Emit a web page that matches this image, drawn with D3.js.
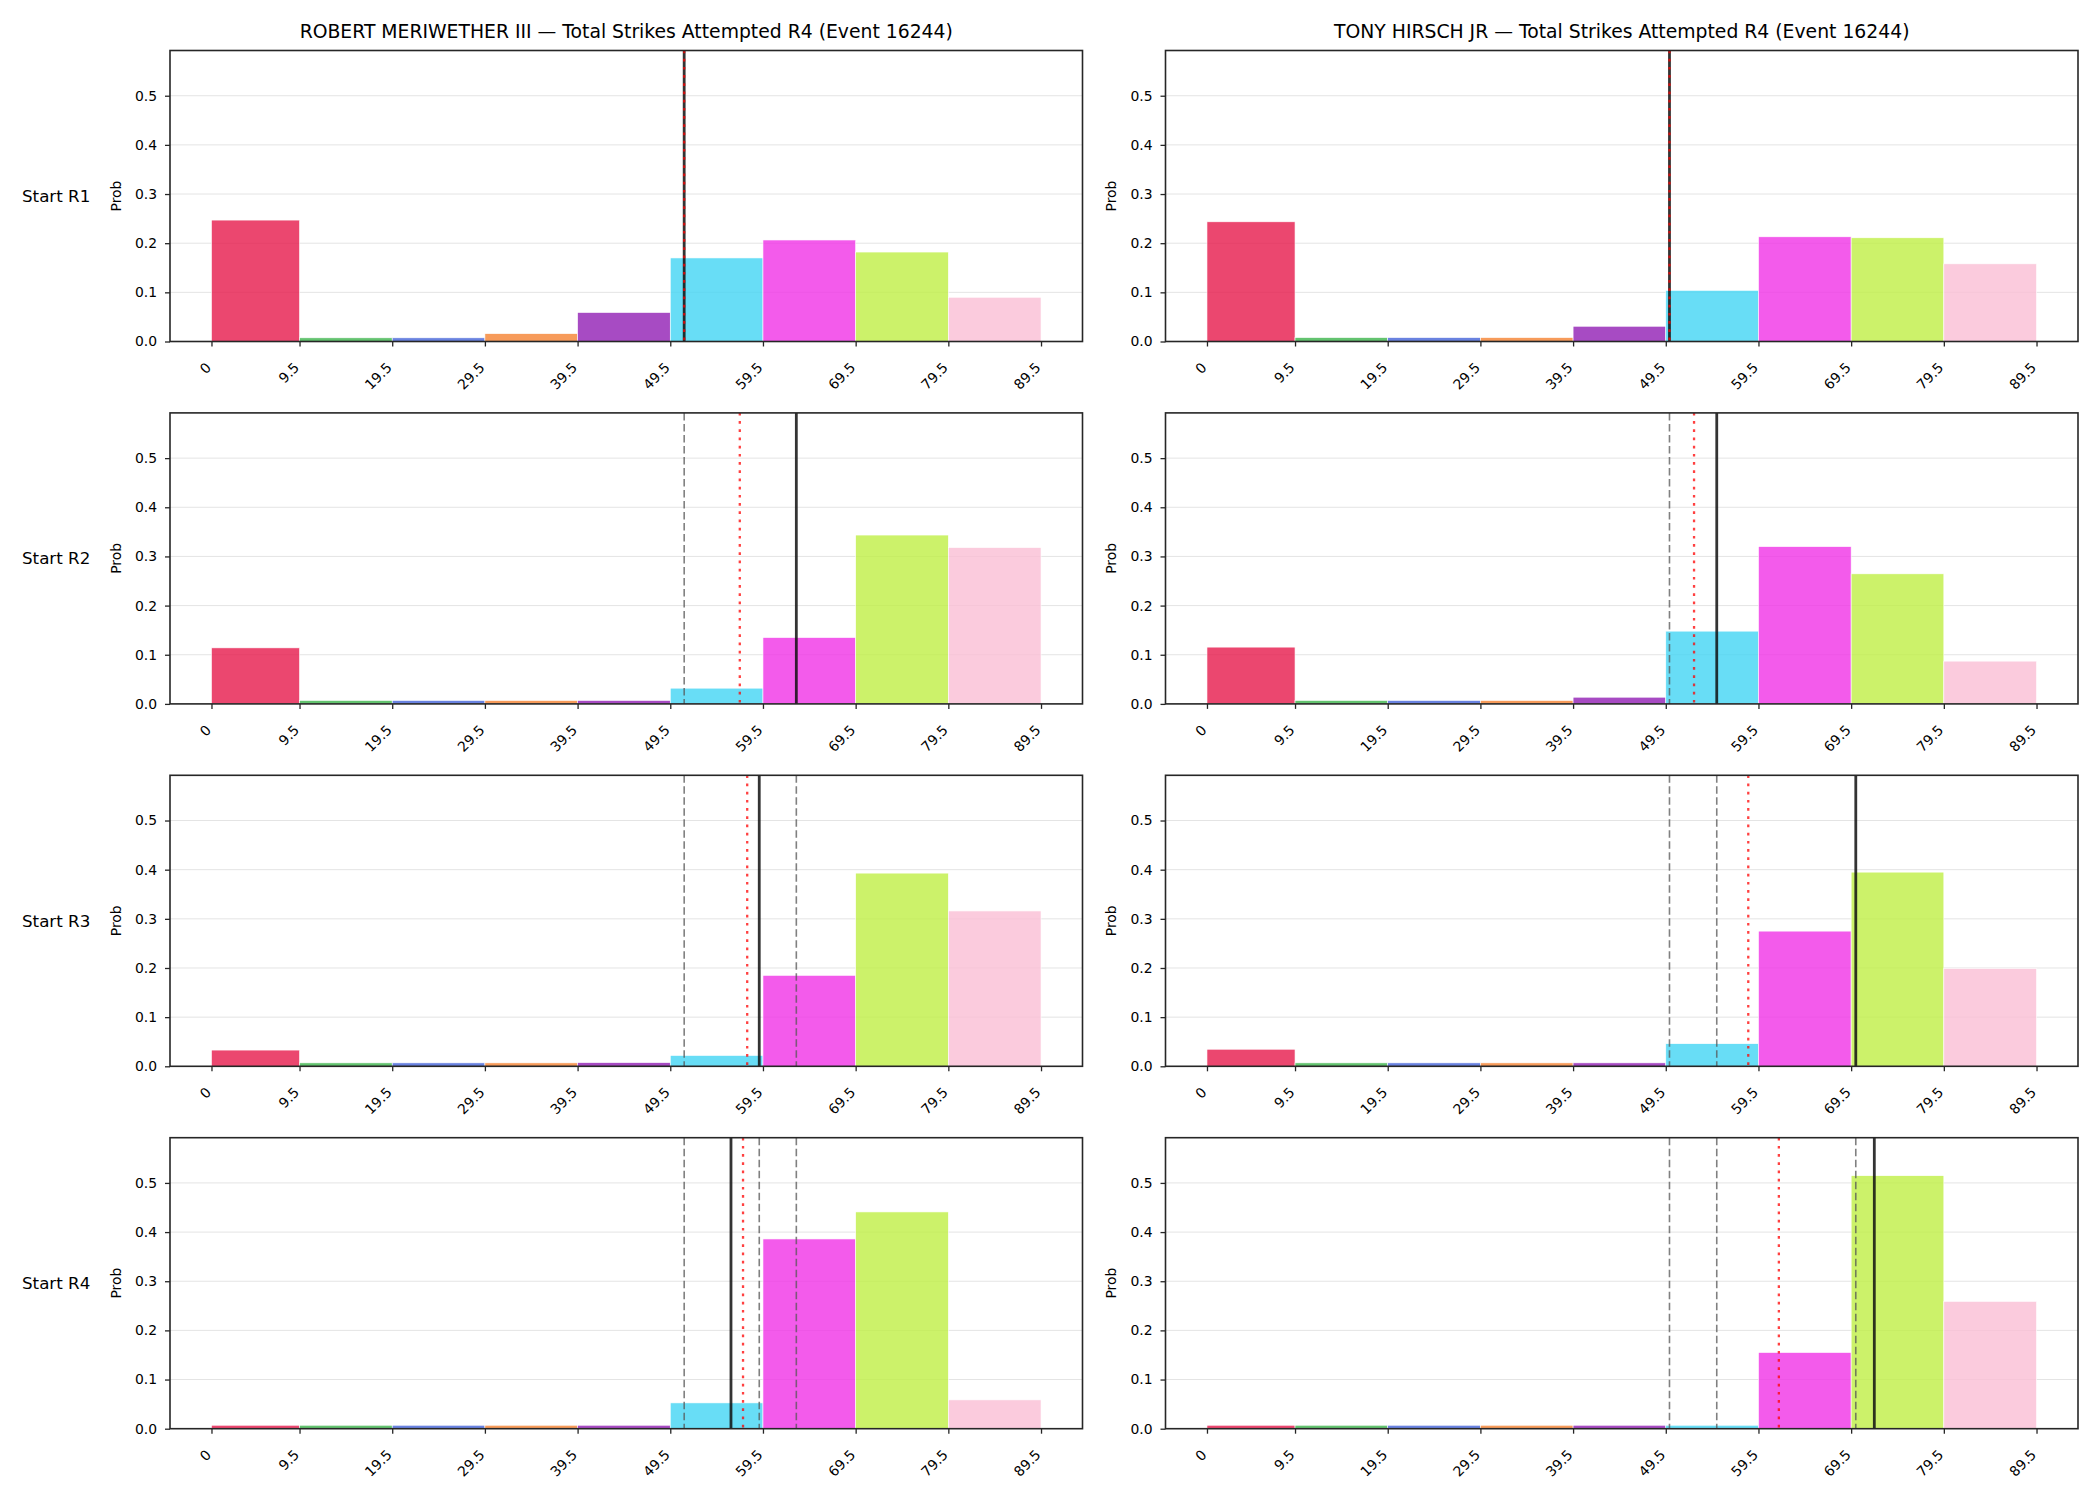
<!DOCTYPE html>
<html>
<head>
<meta charset="utf-8">
<script src="https://cdn.jsdelivr.net/npm/d3@7"></script>
<style>
  body { margin: 0; background: #fff; }
  svg { font-family: "DejaVu Sans", sans-serif; }
</style>
</head>
<body>
<div id="chart-area"></div>
<script>
//DATA-----------------------------------------------------------------------
const fighters = ["ROBERT MERIWETHER III", "TONY HIRSCH JR"]
const titleSuffix = " \u2014 Total Strikes Attempted R4 (Event 16244)"
const rowLabels = ["Start R1", "Start R2", "Start R3", "Start R4"]
const binEdges = [0, 9.5, 19.5, 29.5, 39.5, 49.5, 59.5, 69.5, 79.5, 89.5]
const binColors = ['#e6194b', '#3cb44b', '#4363d8', '#f58231', '#911eb4', '#42d4f4', '#f032e6', '#bfef45', '#fabed4']
const yTicks = [0, 0.1, 0.2, 0.3, 0.4, 0.5]

// probabilities per bin, one row per starting round
const probsLeft = [
  [0.247, 0.0075, 0.0075, 0.016, 0.059, 0.170, 0.2065, 0.182, 0.090],
  [0.114, 0.007, 0.007, 0.007, 0.007, 0.032, 0.135, 0.3435, 0.318],
  [0.033, 0.007, 0.007, 0.007, 0.0075, 0.022, 0.185, 0.393, 0.316],
  [0.007, 0.007, 0.007, 0.007, 0.007, 0.0525, 0.386, 0.441, 0.0586]
]
const probsRight = [
  [0.2435, 0.008, 0.008, 0.008, 0.031, 0.104, 0.213, 0.211, 0.158],
  [0.1155, 0.007, 0.007, 0.007, 0.0136, 0.148, 0.320, 0.2646, 0.087],
  [0.0347, 0.007, 0.007, 0.007, 0.007, 0.046, 0.275, 0.395, 0.199],
  [0.007, 0.007, 0.007, 0.007, 0.007, 0.007, 0.155, 0.5147, 0.259]
]
// solid black line (current estimate) and red dotted line per row
const blackLeft  = [51.0, 63.1, 59.1, 56.05]
const redLeft    = [51.0, 57.0, 57.8, 57.35]
const blackRight = [49.9, 55.0, 70.0, 72.0]
const redRight   = [49.9, 52.55, 58.4, 61.7]

const panels = [
  { name: fighters[0], probs: probsLeft,  black: blackLeft,  red: redLeft },
  { name: fighters[1], probs: probsRight, black: blackRight, red: redRight }
]

//LAYOUT---------------------------------------------------------------------
const W = 2100, H = 1500
const COL_X = [170, 1165.5]
const PANEL_W = 912.5
const ROW_Y0 = 50.5, ROW_STEP = 362.4
const PANEL_H = 291
const Y_MAX = 0.592

const svg = d3.select("#chart-area").append("svg")
  .attr("width", W)
  .attr("height", H)

svg.append("rect").attr("width", W).attr("height", H).attr("fill", "#fff")

const xScale = d3.scaleLinear()
  .domain([-4.475, 93.975])
  .range([0, PANEL_W])
const yScale = d3.scaleLinear()
  .domain([0, Y_MAX])
  .range([PANEL_H, 0])

//PANELS---------------------------------------------------------------------
panels.forEach((p, c) => {
  // column title
  svg.append("text")
    .attr("x", COL_X[c] + PANEL_W / 2)
    .attr("y", 37.5)
    .attr("text-anchor", "middle")
    .attr("font-size", 18.8)
    .attr("fill", "#000")
    .text(p.name + titleSuffix)

  p.probs.forEach((probs, r) => {
    const top = ROW_Y0 + r * ROW_STEP
    const g = svg.append("g").attr("transform", `translate(${COL_X[c]}, ${top})`)

    // grid
    g.selectAll(".grid").data(yTicks.slice(1)).enter().append("line")
      .attr("x1", 0).attr("x2", PANEL_W)
      .attr("y1", d => yScale(d)).attr("y2", d => yScale(d))
      .attr("stroke", "#e4e4e4").attr("stroke-width", 1)

    // bars
    g.selectAll(".bar").data(probs).enter().append("rect")
      .attr("x", (d, i) => xScale(binEdges[i]))
      .attr("width", (d, i) => xScale(binEdges[i + 1]) - xScale(binEdges[i]))
      .attr("y", d => yScale(d))
      .attr("height", d => yScale(0) - yScale(d))
      .attr("fill", (d, i) => binColors[i])
      .attr("fill-opacity", 0.8)
      .attr("stroke", "#fff")
      .attr("stroke-width", 0.6)

    // previous rounds' estimates, dashed
    const prev = p.black.slice(0, r)
    g.selectAll(".prev").data(prev).enter().append("line")
      .attr("x1", d => xScale(d)).attr("x2", d => xScale(d))
      .attr("y1", 0).attr("y2", PANEL_H)
      .attr("stroke", "#555").attr("stroke-opacity", 0.75)
      .attr("stroke-width", 1.6)
      .attr("stroke-dasharray", "7.5,3.5")

    // current estimate
    g.append("line")
      .attr("x1", xScale(p.black[r])).attr("x2", xScale(p.black[r]))
      .attr("y1", 0).attr("y2", PANEL_H)
      .attr("stroke", "#111").attr("stroke-opacity", 0.85)
      .attr("stroke-width", 2.8)

    // red dotted
    g.append("line")
      .attr("x1", xScale(p.red[r])).attr("x2", xScale(p.red[r]))
      .attr("y1", 0).attr("y2", PANEL_H)
      .attr("stroke", "#ff0000").attr("stroke-opacity", 0.75)
      .attr("stroke-width", 2.3)
      .attr("stroke-dasharray", "2.7,5.5")

    // axes
    const gx = g.append("g")
      .attr("transform", `translate(0, ${PANEL_H})`)
      .call(d3.axisBottom(xScale).tickValues(binEdges).tickFormat(d => String(d)).tickSize(5))
    gx.select(".domain").remove()
    gx.selectAll(".tick line").attr("stroke", "#262626").attr("stroke-width", 1.3)
    gx.selectAll(".tick text")
      .attr("x", 0).attr("y", 0).attr("dy", 0)
      .attr("transform", "translate(0, 27) rotate(-45)")
      .attr("text-anchor", "end")
      .attr("font-size", 13.9)
      .attr("font-family", "DejaVu Sans")
      .attr("fill", "#000")

    const gy = g.append("g")
      .call(d3.axisLeft(yScale).tickValues(yTicks).tickFormat(d3.format(".1f")).tickSize(5).tickPadding(8))
    gy.select(".domain").remove()
    gy.selectAll(".tick line").attr("stroke", "#262626").attr("stroke-width", 1.3)
    gy.selectAll(".tick text")
      .attr("font-size", 13.9)
      .attr("font-family", "DejaVu Sans")
      .attr("fill", "#000")

    // frame
    g.append("rect")
      .attr("width", PANEL_W).attr("height", PANEL_H)
      .attr("fill", "none")
      .attr("stroke", "#262626").attr("stroke-width", 1.6)

    // y label
    g.append("text")
      .attr("transform", `translate(-54, ${PANEL_H / 2}) rotate(-90)`)
      .attr("text-anchor", "middle")
      .attr("dy", "0.35em")
      .attr("font-size", 13.9)
      .text("Prob")

    // row label (left column only)
    if (c === 0) {
      svg.append("text")
        .attr("x", 22)
        .attr("y", top + PANEL_H / 2)
        .attr("dy", "0.35em")
        .attr("font-size", 16.7)
        .text(rowLabels[r])
    }
  })
})
</script>
</body>
</html>
